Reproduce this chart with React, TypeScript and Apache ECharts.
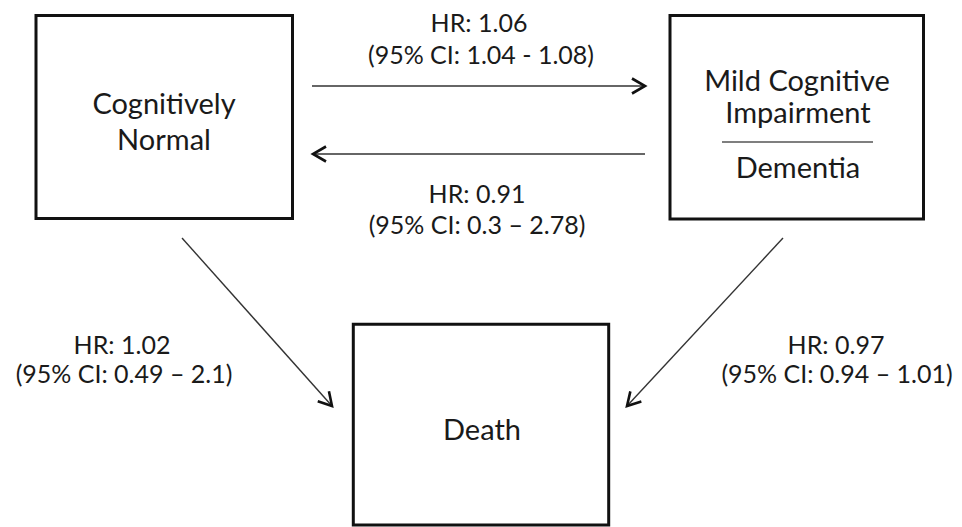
import React, { useEffect, useRef } from "react";
import * as echarts from "echarts";

// ---- data ----
const stateNames = ["Cognitively Normal", "Mild Cognitive Impairment / Dementia", "Death"];
const stateLines = [["Cognitively", "Normal"], ["Mild Cognitive", "Impairment", "Dementia"], ["Death"]];
const transFrom = [0, 1, 0, 1];
const transTo = [1, 0, 2, 2];
const hrValues = [1.06, 0.91, 1.02, 0.97];
const ciLow = [1.04, 0.3, 0.49, 0.94];
const ciHigh = [1.08, 2.78, 2.1, 1.01];
const ciSep = [" - ", " \u2013 ", " \u2013 ", " \u2013 "];

// ---- layout ----
const boxRects = [
  { x: 36, y: 15.5, w: 256.5, h: 203 },
  { x: 670, y: 15.5, w: 253.5, h: 203.5 },
  { x: 353.3, y: 324.3, w: 255.4, h: 200.7 },
];
const boxTextPos = [
  [[164, 102], [164, 138]],
  [[797, 79], [798, 111], [798, 166]],
  [[482, 428]],
];
const arrowPos = [
  [312, 86, 645, 86],
  [645, 154, 313, 154],
  [182, 238, 332, 406],
  [783, 238, 627, 406],
];
const labelPos = [
  [[479, 21.5], [481, 53.5]],
  [[477, 193], [477, 224]],
  [[122, 343.5], [124, 372.5]],
  [[836, 343.5], [837, 372.5]],
];

const FONT = "Lato, 'Open Sans', sans-serif";
const INK = "#1a1a1a";

function arrowHead(x1: number, y1: number, x2: number, y2: number) {
  const dx = x2 - x1, dy = y2 - y1;
  const len = Math.sqrt(dx * dx + dy * dy);
  const ux = dx / len, uy = dy / len;
  const nx = -uy, ny = ux;
  const L = 13, W = 7.5;
  return [
    [x2 - L * ux + W * nx, y2 - L * uy + W * ny],
    [x2, y2],
    [x2 - L * ux - W * nx, y2 - L * uy - W * ny],
  ];
}

export default function App() {
  const ref = useRef<HTMLDivElement>(null);
  useEffect(() => {
    if (!ref.current) return;
    const chart = echarts.init(ref.current, null, { renderer: "svg" });
    const elements: any[] = [];

    boxRects.forEach((b) => {
      elements.push({
        type: "rect",
        shape: { x: b.x, y: b.y, width: b.w, height: b.h },
        style: { fill: "#fff", stroke: "#111", lineWidth: 3 },
      });
    });

    stateLines.forEach((lines, i) => {
      lines.forEach((t, j) => {
        const [x, y] = boxTextPos[i][j];
        elements.push({
          type: "text",
          x, y,
          style: {
            text: t,
            font: `29px ${FONT}`,
            fill: INK,
            textAlign: "center",
            textVerticalAlign: "middle",
          },
        });
      });
    });

    // separator between MCI and Dementia
    elements.push({
      type: "line",
      shape: { x1: 722, y1: 142, x2: 873, y2: 142 },
      style: { stroke: "#555", lineWidth: 1.5 },
    });

    hrValues.forEach((hr, i) => {
      const [x1, y1, x2, y2] = arrowPos[i];
      elements.push({
        type: "line",
        shape: { x1, y1, x2, y2 },
        style: { stroke: "#333", lineWidth: 1.4 },
      });
      elements.push({
        type: "polyline",
        shape: { points: arrowHead(x1, y1, x2, y2) },
        style: { stroke: "#111", lineWidth: 2.6, fill: "none", lineJoin: "miter" },
      });
      const texts = [
        `HR: ${hr.toFixed(2)}`,
        `(95% CI: ${String(ciLow[i])}${ciSep[i]}${String(ciHigh[i])})`,
      ];
      texts.forEach((t, j) => {
        const [x, y] = labelPos[i][j];
        elements.push({
          type: "text",
          x, y,
          style: {
            text: t,
            font: `25px ${FONT}`,
            fill: INK,
            textAlign: "center",
            textVerticalAlign: "middle",
          },
        });
      });
    });

    chart.setOption({
      animation: false,
      backgroundColor: "#ffffff",
      graphic: { elements },
    });
    return () => chart.dispose();
  }, []);
  return (
    <div
      ref={ref}
      style={{ position: "fixed", left: 0, top: 0, width: 962, height: 527 }}
    />
  );
}
